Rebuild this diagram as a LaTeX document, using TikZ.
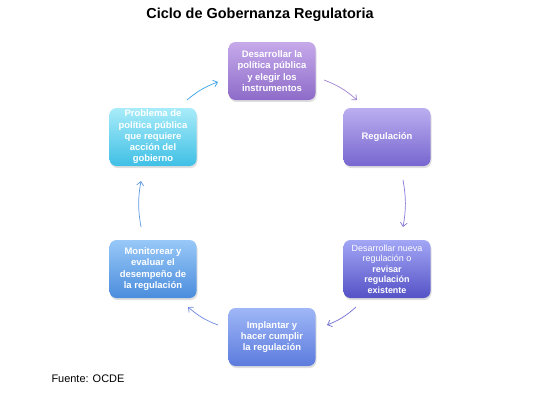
\documentclass[tikz,border=0pt]{standalone}
\usepackage{fontspec}
\setmainfont{Liberation Sans}
\usetikzlibrary{arrows.meta,shadows}

\definecolor{morado1}{HTML}{C6AAEA}
\definecolor{morado2}{HTML}{8D6BC9}
\definecolor{lila1}{HTML}{BBAEF0}
\definecolor{lila2}{HTML}{7766CF}
\definecolor{indigo1}{HTML}{A2A6F5}
\definecolor{indigo2}{HTML}{5552C6}
\definecolor{azul1}{HTML}{9FB7F7}
\definecolor{azul2}{HTML}{5C7BDD}
\definecolor{celeste1}{HTML}{98C8F8}
\definecolor{celeste2}{HTML}{4B8DDC}
\definecolor{cian1}{HTML}{A8ECF9}
\definecolor{cian2}{HTML}{3FBFE5}

\tikzset{>/.tip={Straight Barb[length=4pt,width=7pt]},
  caja/.style={rounded corners=7pt, minimum width=87bp, minimum height=58bp, inner sep=2pt,
    align=center, text=white, font=\bfseries\fontsize{9.5}{11.3}\selectfont,
    drop shadow={shadow xshift=1pt, shadow yshift=-2pt, opacity=0.25}},
  flecha/.style={->, line width=0.7pt, bend left=10}}

\begin{document}
\begin{tikzpicture}[x=1bp,y=1bp]
\useasboundingbox (0,0) rectangle (537,-400);

\node[font=\bfseries\fontsize{14.5}{16}\selectfont] (titulo) at (260,-15) {Ciclo de Gobernanza Regulatoria};

\node[caja, top color=morado1, bottom color=morado2] (desarrollar) at (272,-71)
  {Desarrollar la\\política pública\\y elegir los\\instrumentos};
\node[caja, top color=lila1, bottom color=lila2] (regulacion) at (387,-137) {Regulación};
\node[caja, top color=indigo1, bottom color=indigo2, font=\fontsize{9}{10.6}\selectfont] (revisar) at (387,-269)
  {Desarrollar nueva\\regulación o\\\textbf{revisar}\\\textbf{regulación}\\\textbf{existente}};
\node[caja, top color=azul1, bottom color=azul2] (implantar) at (272,-337)
  {Implantar y\\hacer cumplir\\la regulación};
\node[caja, top color=celeste1, bottom color=celeste2] (monitorear) at (153,-269)
  {Monitorear y\\evaluar el\\desempeño de\\la regulación};
\node[caja, top color=cian1, bottom color=cian2] (problema) at (153,-137)
  {Problema de\\política pública\\que requiere\\acción del\\gobierno};

\node[anchor=west, font=\fontsize{11}{13}\selectfont] (fuente) at (48,-379) {Fuente: OCDE};

% flechas del ciclo
\coordinate (f1a) at (324,-80);  \coordinate (f1b) at (357,-100);
\coordinate (f2a) at (403,-180); \coordinate (f2b) at (403,-227);
\coordinate (f3a) at (356,-307); \coordinate (f3b) at (327,-325);
\coordinate (f4a) at (218,-325); \coordinate (f4b) at (188,-307);
\coordinate (f5a) at (141,-227); \coordinate (f5b) at (141,-181);
\coordinate (f6a) at (187,-100); \coordinate (f6b) at (218,-82);

\draw[flecha, morado2!85] (f1a) to (f1b);
\draw[flecha, lila2!90] (f2a) to (f2b);
\draw[flecha, indigo2!85] (f3a) to (f3b);
\draw[flecha, azul2!90] (f4a) to (f4b);
\draw[flecha, celeste2!90] (f5a) to (f5b);
\draw[flecha, cian2!85!blue] (f6a) to (f6b);
\end{tikzpicture}
\end{document}
